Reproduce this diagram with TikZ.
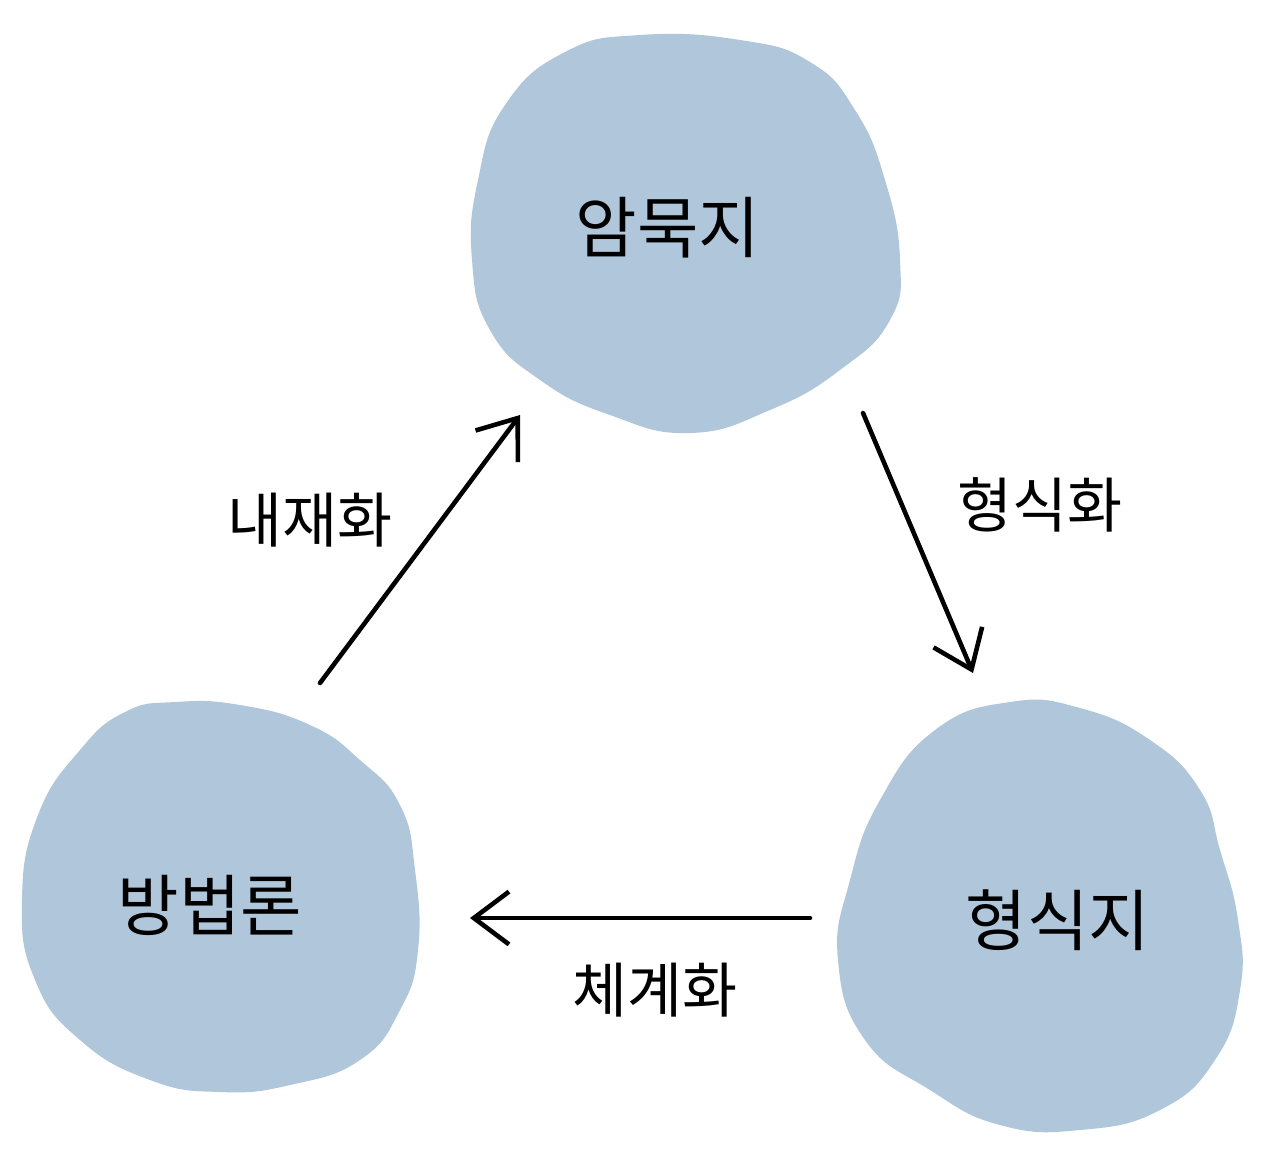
\documentclass[tikz,border=0pt]{standalone}
\usepackage{fontspec}
\newfontfamily\kr{Noto Sans CJK KR}
\usetikzlibrary{arrows.meta}
\definecolor{blobblue}{RGB}{176,198,219}
\tikzset{
  blob/.style={fill=blobblue, draw=none},
  lbl/.style={font=\kr\fontsize{17}{20}\selectfont, inner sep=0pt},
  biglbl/.style={font=\kr\fontsize{19}{22}\selectfont, inner sep=0pt},
  flow/.style={line width=1.3pt, line cap=round, line join=round, -{Straight Barb[length=10pt,width=15pt,line width=1.3pt]}}
}
\begin{document}
\begin{tikzpicture}[x=0.01cm,y=-0.01cm]
\useasboundingbox (0,0) rectangle (1280,1160);
% blobs
\fill[blob] plot[smooth cycle, tension=0.8] coordinates {(640,35) (740,40) (810,62) (855,110) (885,180) (900,260) (890,320) (840,370) (770,410) (690,433) (610,415) (540,380) (490,330) (472,260) (478,180) (505,105) (565,52)};
\fill[blob] plot[smooth cycle, tension=0.8] coordinates {(175,702) (240,705) (310,725) (360,760) (400,805) (415,870) (418,950) (400,1010) (360,1060) (290,1085) (220,1092) (150,1080) (80,1040) (35,980) (22,900) (38,815) (80,750) (125,712)};
\fill[blob] plot[smooth cycle, tension=0.8] coordinates {(1010,702) (1080,708) (1150,740) (1200,790) (1220,850) (1238,920) (1240,990) (1215,1060) (1160,1110) (1080,1130) (1000,1125) (930,1090) (865,1040) (838,960) (850,880) (880,800) (935,730)};
% texts
\node[biglbl] (tacit) at (668,228) {암묵지};
\node[biglbl] (explicit) at (1058,920) {형식지};
\node[biglbl] (method) at (210,905) {방법론};
\node[lbl] (l1) at (1040,505) {형식화};
\node[lbl] (l2) at (655,990) {체계화};
\node[lbl] (l3) at (310,520) {내재화};
% arrow endpoints
\coordinate (a1s) at (863,413);
\coordinate (a1e) at (973,673);
\coordinate (a2s) at (810,918);
\coordinate (a2e) at (470,918);
\coordinate (a3s) at (320,683);
\coordinate (a3e) at (520,415);
\draw[flow] (a1s) -- (a1e);
\draw[flow] (a2s) -- (a2e);
\draw[flow] (a3s) -- (a3e);
\end{tikzpicture}
\end{document}
